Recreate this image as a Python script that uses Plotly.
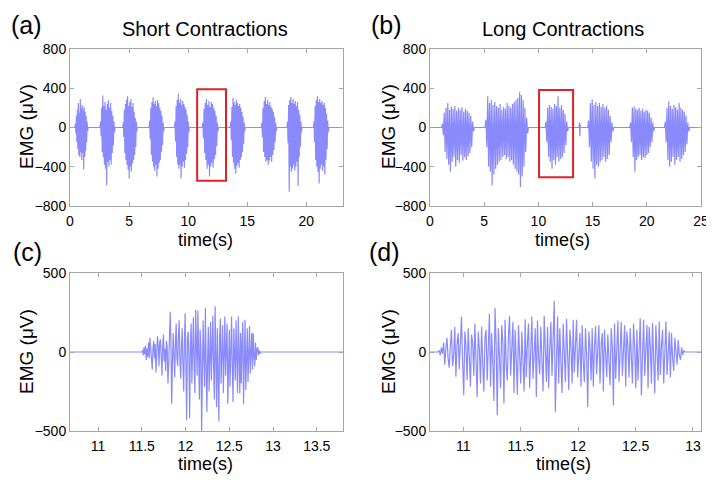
import numpy as np
import plotly.graph_objects as go

# ---- (a) short contractions: burst windows (s) and sampled EMG values (uV)
short_windows = [(0.42, 1.53), (2.54, 3.81), (4.46, 5.70), (6.70, 7.97), (8.84, 10.10),
                 (11.19, 12.57), (13.56, 14.83), (16.19, 17.50), (18.36, 19.63), (20.60, 21.90)]
short_bursts = [
    [40, -60, 120, -150, 180, -220, 250, -280, 150, -300, 290, -250, 200, -330, 230, -260, 180, -427, 210, -300, 160, -240, 120, -150, 60, -40],
    [60, -90, 200, -250, 325, -300, 220, -380, 260, -420, 180, -590, 240, -350, 280, -400, 200, -330, 250, -380, 170, -260, 120, -180, 60, -50],
    [50, -100, 180, -260, 240, -330, 280, -380, 318, -430, 220, -520, 260, -400, 290, -450, 210, -370, 250, -330, 160, -280, 100, -200, 60, -40],
    [70, -120, 200, -280, 260, -350, 308, -400, 240, -440, 270, -380, 220, -500, 280, -420, 250, -360, 200, -330, 170, -250, 120, -180, 50, -40],
    [60, -140, 220, -300, 280, -380, 345, -420, 250, -380, 290, -520, 230, -400, 270, -350, 240, -410, 210, -330, 180, -270, 130, -200, 60, -50],
    [50, -110, 190, -260, 250, -330, 290, -420, 230, -380, 270, -500, 210, -400, 260, -360, 240, -410, 200, -320, 170, -280, 120, -190, 50, -40],
    [60, -130, 210, -300, 300, -360, 260, -420, 230, -470, 280, -390, 250, -360, 220, -410, 240, -330, 200, -300, 160, -250, 110, -170, 50, -40],
    [50, -100, 200, -250, 270, -300, 310, -350, 240, -330, 280, -380, 230, -340, 260, -300, 210, -350, 190, -280, 160, -230, 110, -150, 50, -40],
    [60, -160, 230, -655, 280, -400, 310, -450, 250, -420, 290, -380, 240, -440, 270, -400, 220, -350, 260, -600, 180, -300, 130, -200, 60, -50],
    [60, -150, 220, -330, 280, -400, 318, -450, 260, -570, 290, -420, 250, -380, 270, -440, 230, -400, 250, -480, 200, -330, 140, -220, 70, -50],
]
short_end = 23.1

# ---- (b) long contractions
long_windows = [(1.07, 4.09), (5.08, 9.08), (10.62, 12.77), (13.75, 13.90),
                (14.55, 16.95), (18.43, 20.71), (21.63, 23.94)]
long_bursts = [
    [40, -80, 150, -250, 200, -320, 250, -380, 180, -450, 210, -350, 190, -300, 220, -400, 170, -330,
     200, -360, 180, -280, 210, -340, 160, -300, 190, -330, 170, -290, 150, -260, 120, -200, 60, -40],
    [80, -200, 318, -400, 250, -450, 280, -590, 230, -480, 260, -420, 220, -380, 200, -350, 240, -330,
     180, -300, 210, -280, 190, -320, 250, -300, 220, -350, 200, -330, 240, -380, 260, -420, 280, -450,
     300, -480, 360, -610, 330, -500, 280, -400, 200, -250, 100, -60],
    [60, -150, 200, -300, 230, -350, 210, -420, 190, -330, 240, -380, 220, -300, 318, -350, 200, -320,
     230, -300, 180, -260, 140, -180, 60, -40],
    [50, -90, 30],
    [70, -200, 250, -350, 284, -420, 230, -520, 260, -380, 220, -400, 250, -350, 210, -330, 240, -300,
     200, -350, 220, -320, 180, -280, 120, -150, 50, -40],
    [50, -150, 200, -300, 215, -450, 190, -330, 180, -300, 200, -280, 170, -330, 190, -300, 160, -310,
     180, -280, 170, -260, 150, -200, 100, -150, 50, -40],
    [60, -150, 200, -330, 267, -400, 220, -350, 190, -300, 230, -380, 210, -330, 180, -300, 250, -350,
     200, -320, 180, -280, 160, -250, 120, -170, 50, -40],
]
long_end = 25.0

# ---- (c) zoom on one short contraction
c_window = (11.50, 12.86)
c_range = (10.68, 13.80)
c_values = [10, -20, 30, -15, 40, -50, 20, -30, 60, -40,
            90, 30, -60, -110, 20, 70, -40, 50, -130, -20, 100, 40, -90, 60,
            80, -30, -150, 40, 110, -60, 20, -120, 70, 30, -200, -80, 90,
            255, 40, -327, -60, 120, -20,
            -160, 60, 180, -40, -90, 100, 200, -50, -167, 30, 150, -70, -250, 60,
            245, -100, -432, 80, 130, -30,
            -420, 60, 180, -200, 40, 220, -80, -260, 267, 50, -150, 263, -60,
            -300, 140, 30, -500, 90, 200, -40,
            -220, 280, 60, -380, -50, 160, -250, 30, 190,
            -180, 40, 230, -100, -300, 290, 70, -350, 150, -60, -440, 100,
            210, -200, 50, 170, -260, 20, 225, -150, 80, 180, -327, -40, 140, -220, 60,
            225, -100, -316, 150, -30, -180, 200, 40, -260, 225, -60, -263, 120, -200, 70,
            190, -330, 30, 204, -240, 60, 150, -190, -40, 165, -136, 50, 120, -110,
            119, -30, -90, 60, -50, 20, 30, -20, 10, -10]

# ---- (d) zoom on one long contraction
d_window = (10.78, 12.93)
d_range = (10.71, 13.07)
d_values = [10, -20, 30, -10, 60, -80, 20, 90, -40,
            -100, 40, 140, -90, -20, 160, -157, 50, 120, -110, 30,
            225, -60, -273, 130, 40, -180, 150, -30, -220, 110, 60,
            -150, 180, -50, -284, 130, 20, -200, 160, -70, -250, 90,
            140, -180, 30, 242, -220, 120, -60, -310, 278, 50,
            -400, 150, -40, -230, 170, 60, -326, 204, -80, -180, 100,
            230, -150, 40, 190, -260, 140, -50, -270, 170, 30,
            -200, 130, -30, -250, 208, -160, 60, 180, -230, 80,
            225, -170, 20, 150, -284, 200, -40, -140, 160, -60,
            -250, 230, 50, -190, 160, -230, 20, 190, -150, 70,
            325, -380, 40, 225, -200, 150, -60, -260, 180, -30,
            -190, 210, -40, -240, 140, 30, -200, 204, -130, 60,
            204, -160, 20, 120, -220, 170, -60, -190, 150, -20,
            -348, 130, 40, -180, 150, -220, 30, 165, -140, 60,
            170, -200, 50, 120, -250, 140, -40, -160, 110, -30,
            -210, 150, 30, -337, 180, -170, 60, 200, -190, 20,
            190, -150, -20, 170, -220, 130, 40, -160, 150, -50,
            -200, 180, 30, -230, 140, -180, 50, 214, -273, 20,
            204, -150, -30, 170, -230, 160, 40, -200, 185, -60,
            -263, 170, 20, -180, 193, -146, 40, 140, -200, 30,
            193, -146, 30, 130, -160, 120, -40, -120, 90, -30,
            -80, 76, -20, -50, 30, -20, 10]

# red boxes marking the zoomed segments in (a) and (b)
box_a = (10.76, 13.20, -542, 390)
box_b = (10.06, 13.20, -508, 382)


def build_signal(windows, bursts, t0, t1):
    ts, vs = [t0], [0]
    for (s, e), vals in zip(windows, bursts):
        ts += [s] + list(np.linspace(s, e, len(vals) + 2)[1:-1]) + [e]
        vs += [0] + list(vals) + [0]
    ts.append(t1)
    vs.append(0)
    return ts, vs


W, H = 714, 480
OFF = 8  # page body margin shifts the figure by this many pixels


def px(x):
    return (x - OFF) / W


def py(y):
    return 1 - (y - OFF) / H


LINE = dict(color='rgba(60,60,250,0.6)', width=1.2)
FONT = 'Liberation Sans, Arial, sans-serif'

fig = go.Figure()

panels = [
    build_signal(short_windows, short_bursts, 0, short_end),
    build_signal(long_windows, long_bursts, 0, long_end),
    build_signal([c_window], [c_values], c_range[0], c_range[1]),
    build_signal([d_window], [d_values], d_range[0], d_range[1]),
]
for i, (t, v) in enumerate(panels):
    fig.add_trace(go.Scatter(x=t, y=v, mode='lines', line=LINE, showlegend=False,
                             xaxis='x' if i == 0 else f'x{i+1}',
                             yaxis='y' if i == 0 else f'y{i+1}'))

axis_common = dict(showline=True, linecolor='#a6a6a6', linewidth=1, mirror='ticks',
                   ticks='inside', ticklen=4, tickcolor='#a6a6a6', showgrid=False,
                   zeroline=False, automargin=False,
                   tickfont=dict(size=14, color='black', family=FONT))
x_common = dict(axis_common, ticklabelstandoff=2)

top_y = [py(206), py(49)]
bot_y = [py(431), py(273)]
left_x = [px(70), px(343)]
right_x = [px(430), px(701)]

fig.update_layout(
    width=W, height=H,
    margin=dict(l=0, r=0, t=0, b=0),
    paper_bgcolor='white', plot_bgcolor='white',
    xaxis=dict(domain=left_x, anchor='y', range=[0, short_end], tickvals=[0, 5, 10, 15, 20],
               **x_common),
    yaxis=dict(domain=top_y, anchor='x', range=[-800, 800], tickvals=[-800, -400, 0, 400, 800],
               **axis_common),
    xaxis2=dict(domain=right_x, anchor='y2', range=[0, long_end], tickvals=[0, 5, 10, 15, 20, 25],
                **x_common),
    yaxis2=dict(domain=top_y, anchor='x2', range=[-800, 800], tickvals=[-800, -400, 0, 400, 800],
                **axis_common),
    xaxis3=dict(domain=left_x, anchor='y3', range=list(c_range),
                tickvals=[11, 11.5, 12, 12.5, 13, 13.5], **x_common),
    yaxis3=dict(domain=bot_y, anchor='x3', range=[-500, 500], tickvals=[-500, 0, 500],
                **axis_common),
    xaxis4=dict(domain=right_x, anchor='y4', range=list(d_range),
                tickvals=[11, 11.5, 12, 12.5, 13], **x_common),
    yaxis4=dict(domain=bot_y, anchor='x4', range=[-500, 500], tickvals=[-500, 0, 500],
                **axis_common),
)

for (x0, x1, y0, y1), xr, yr in [(box_a, 'x', 'y'), (box_b, 'x2', 'y2')]:
    fig.add_shape(type='rect', x0=x0, x1=x1, y0=y0, y1=y1, xref=xr, yref=yr,
                  line=dict(color='#e0202a', width=2), fillcolor='rgba(0,0,0,0)')


def note(txt, x, y, size, angle=0):
    fig.add_annotation(text=txt, x=px(x), y=py(y), xref='paper', yref='paper',
                       xanchor='center', yanchor='middle', textangle=angle,
                       showarrow=False, font=dict(size=size, color='black', family=FONT))


for txt, x, y in [('(a)', 26, 25), ('(b)', 386, 25), ('(c)', 27, 252), ('(d)', 384, 252)]:
    note(txt, x, y, 25)

note('Short Contractions', 205, 29, 20)
note('Long Contractions', 563, 29, 20)

# axis titles
for x, y in [(205, 240), (562, 240), (205, 464), (563, 464)]:
    note('time(s)', x, y, 18)
for x, y in [(26, 127), (388, 127), (26, 352), (388, 352)]:
    note('EMG (\u03bcV)', x, y, 19, angle=-90)

fig.write_html("out.html")
